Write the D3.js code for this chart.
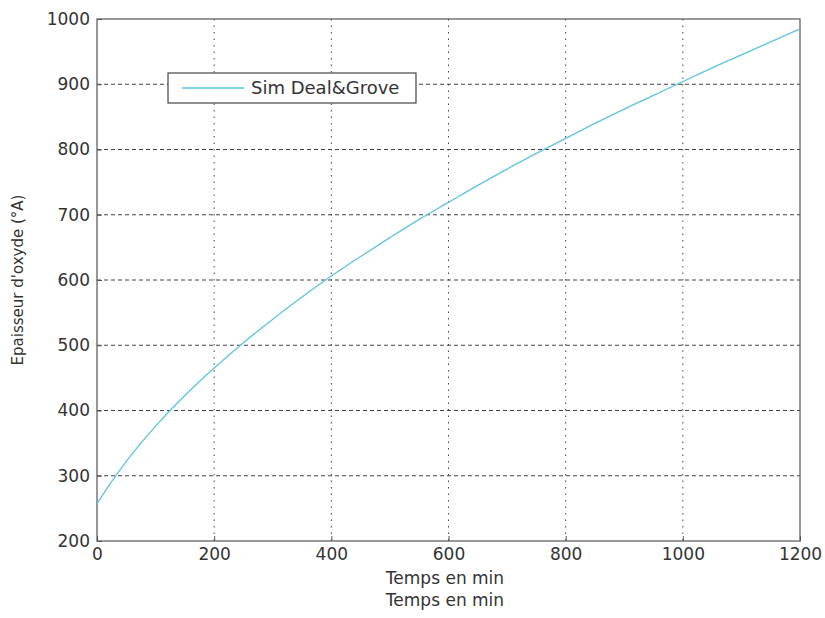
<!DOCTYPE html>
<html>
<head>
<meta charset="utf-8">
<script src="https://cdn.jsdelivr.net/npm/d3@7"></script>
<style>
  body { margin: 0; background: #fff; }
  text { font-family: "DejaVu Sans", Arial, sans-serif; fill: #333; }
</style>
</head>
<body>
<div id="chart"></div>
<script>
// values
var temps = [0, 25, 50, 75, 100, 150, 200, 250, 300, 350, 400, 450, 500, 550, 600,
             650, 700, 750, 800, 850, 900, 950, 1000, 1050, 1100, 1150, 1200];
var epaisseur = [257, 291, 322, 350, 376, 423, 465, 504, 540, 574, 606, 636, 665, 693, 719,
                 745, 770, 794, 817, 840, 862, 883, 904, 925, 945, 965, 985];
var xTicks = [0, 200, 400, 600, 800, 1000, 1200];
var yTicks = [200, 300, 400, 500, 600, 700, 800, 900, 1000];
var serieNom = "Sim Deal&Grove";

function draw_chart() {
    var W = 825, H = 618;
    var margin = {top: 19, right: 25, bottom: 77, left: 97},
        width = W - margin.left - margin.right,
        height = H - margin.top - margin.bottom;

    var x = d3.scaleLinear().domain([0, 1200]).range([0, width]);
    var y = d3.scaleLinear().domain([200, 1000]).range([height, 0]);

    var svg = d3.select("#chart").append("svg")
        .attr("width", W).attr("height", H);
    var g = svg.append("g")
        .attr("transform", "translate(" + margin.left + "," + margin.top + ")");

    // grid
    g.selectAll(".hgrid").data(yTicks.slice(1, -1)).enter().append("line")
        .attr("x1", 0).attr("x2", width)
        .attr("y1", function(d) { return y(d); }).attr("y2", function(d) { return y(d); })
        .attr("stroke", "#444").attr("stroke-width", 1)
        .attr("stroke-dasharray", "4,3");
    g.selectAll(".vgrid").data(xTicks.slice(1, -1)).enter().append("line")
        .attr("y1", 0).attr("y2", height)
        .attr("x1", function(d) { return x(d); }).attr("x2", function(d) { return x(d); })
        .attr("stroke", "#444").attr("stroke-width", 1)
        .attr("stroke-dasharray", "1.5,5");

    // axes
    var xAxis = d3.axisBottom(x).tickValues(xTicks).tickFormat(d3.format("d"))
        .tickSizeInner(-5).tickSizeOuter(0).tickPadding(7);
    var yAxis = d3.axisLeft(y).tickValues(yTicks).tickFormat(d3.format("d"))
        .tickSizeInner(-5).tickSizeOuter(0).tickPadding(7);
    var gx = g.append("g").attr("transform", "translate(0," + height + ")").call(xAxis);
    var gy = g.append("g").call(yAxis);
    [gx, gy].forEach(function(a) {
        a.selectAll("text").style("font-size", "17px").style("font-family", "DejaVu Sans").attr("fill", "#333");
        a.selectAll("line").attr("stroke", "#555");
        a.select(".domain").remove();
    });

    // box
    g.append("rect").attr("width", width).attr("height", height)
        .attr("fill", "none").attr("stroke", "#555").attr("stroke-width", 1.2);

    var line = d3.line()
        .x(function(d, i) { return x(temps[i]); })
        .y(function(d) { return y(d); })
        .curve(d3.curveMonotoneX);

    g.append("path").datum(epaisseur)
        .attr("d", line)
        .attr("fill", "none")
        .attr("stroke", "#5ec3dd")
        .attr("stroke-width", 1.3);

    // legend
    var leg = svg.append("g").attr("transform", "translate(168,73)");
    leg.append("rect").attr("width", 248).attr("height", 30)
        .attr("fill", "#fff").attr("stroke", "#444").attr("stroke-width", 1.2);
    leg.append("line").attr("x1", 14).attr("x2", 76).attr("y1", 15).attr("y2", 15)
        .attr("stroke", "#5ec3dd").attr("stroke-width", 1.3);
    leg.append("text").attr("x", 83).attr("y", 21)
        .style("font-size", "18px").text(serieNom);

    // labels
    svg.append("text").attr("x", 445).attr("y", 584)
        .attr("text-anchor", "middle").style("font-size", "17px").text("Temps en min");
    svg.append("text").attr("x", 445).attr("y", 606)
        .attr("text-anchor", "middle").style("font-size", "17px").text("Temps en min");
    svg.append("text")
        .attr("transform", "translate(23,280) rotate(-90)")
        .attr("text-anchor", "middle").style("font-size", "15px")
        .text("Epaisseur d'oxyde (°A)");
}

draw_chart();
</script>
</body>
</html>
